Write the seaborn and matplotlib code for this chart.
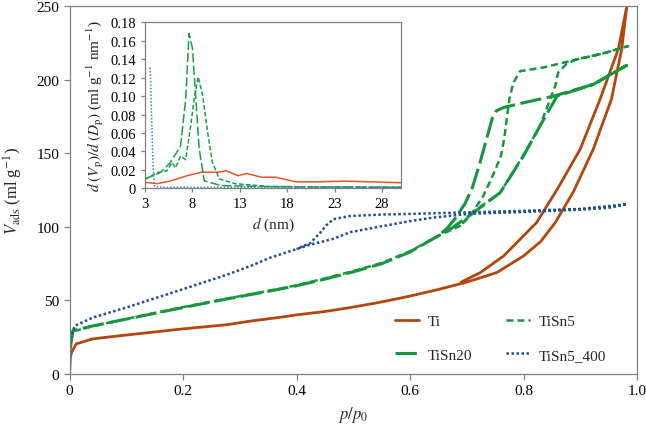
import numpy as np
import pandas as pd
import matplotlib
matplotlib.use("Agg")
import matplotlib.pyplot as plt
import seaborn as sns

# ---- isotherm data (p/p0, V_ads) : adsorption then desorption branch ----
ti_ads_p = [0, 0.001, 0.004, 0.012, 0.041, 0.1, 0.2, 0.277, 0.319, 0.37, 0.4, 0.45, 0.495,
            0.55, 0.6, 0.65, 0.7, 0.753, 0.8, 0.83, 0.856, 0.888, 0.923, 0.955, 0.973, 0.982]
ti_ads_v = [0, 11, 15, 20.5, 23.9, 26.5, 30.7, 33.5, 36, 38.5, 40.2, 42.5, 45.2,
            49, 53, 57.5, 62.5, 69, 80.3, 90, 103, 124, 153, 187, 221, 250]
ti_des_p = [0.982, 0.967, 0.935, 0.90, 0.86, 0.823, 0.765, 0.724, 0.69]
ti_des_v = [250, 221, 187, 153, 126, 103, 80.3, 69, 62.5]

tisn20_ads_p = [0, 0.001, 0.003, 0.006, 0.041, 0.1, 0.2, 0.277, 0.319, 0.37, 0.4, 0.45, 0.5,
                0.55, 0.6, 0.65, 0.671, 0.712, 0.759, 0.80, 0.829, 0.859, 0.923, 0.982]
tisn20_ads_v = [0, 15, 22, 29.5, 32.7, 37.3, 45.2, 51, 54, 57.7, 60, 64.5, 69.5,
                75, 83, 94, 98.5, 109.8, 123.4, 148.3, 168.7, 189, 197, 210]
tisn20_des_p = [0.982, 0.923, 0.853, 0.80, 0.765, 0.752, 0.745, 0.735, 0.722, 0.71, 0.697,
                0.68, 0.665, 0.65]
tisn20_des_v = [210, 197, 189, 184.5, 181.3, 179, 174, 160, 142, 127, 116, 106, 99, 94]

tisn5_ads_p = [0, 0.001, 0.003, 0.006, 0.041, 0.1, 0.2, 0.277, 0.319, 0.37, 0.4, 0.45, 0.5,
               0.55, 0.6, 0.65, 0.688, 0.712, 0.759, 0.80, 0.829, 0.847, 0.856, 0.861, 0.876,
               0.893, 0.94, 0.984]
tisn5_ads_v = [0, 15, 22, 29, 32.5, 37.5, 45.5, 51.3, 54.3, 58, 60.3, 65, 70,
               75.5, 83.5, 94, 100.7, 110.5, 123.4, 149, 168.7, 187, 196, 205, 211,
               214, 218, 223]
tisn5_des_p = [0.984, 0.94, 0.894, 0.835, 0.794, 0.782, 0.775, 0.771, 0.766, 0.76, 0.747,
               0.729, 0.706, 0.688]
tisn5_des_v = [223, 218, 214, 208.5, 206, 198, 187, 175, 160, 148, 136, 121, 107.5, 100.7]

tisn5400_ads_p = [0, 0.001, 0.003, 0.009, 0.041, 0.1, 0.2, 0.277, 0.319, 0.353, 0.40, 0.42,
                  0.465, 0.495, 0.553, 0.6, 0.641, 0.706, 0.8, 0.9, 0.95, 0.982]
tisn5400_ads_v = [0, 20, 26, 32.7, 38.4, 45.2, 57.7, 67.5, 73.5, 79, 85, 87.5, 92, 96.5,
                  100.7, 104, 106.4, 109, 110.2, 111.8, 113, 115.5]
tisn5400_des_p = [0.982, 0.9, 0.8, 0.706, 0.612, 0.553, 0.495, 0.465, 0.452, 0.442, 0.424, 0.40]
tisn5400_des_v = [115.5, 112.3, 111, 110, 109, 108.5, 107.5, 105.3, 101, 96.2, 89, 85]

# ---- pore size distribution (inset) ----
psd_ti_d = [3, 4.3, 5.7, 7.46, 8.89, 10.7, 11.57, 12.8, 13.7, 15.3, 16.8, 18.9, 21, 24, 27, 30]
psd_ti_v = [0.0065, 0.005, 0.008, 0.0137, 0.0174, 0.0174, 0.019, 0.0137, 0.016, 0.012, 0.012,
            0.007, 0.007, 0.0077, 0.007, 0.006]
psd_tisn20_d = [3, 4.6, 5.68, 6.75, 7.29, 7.64, 8.0, 8.36, 8.71, 9.25, 11, 15, 20, 30]
psd_tisn20_v = [0.010, 0.017, 0.028, 0.046, 0.097, 0.168, 0.152, 0.097, 0.043, 0.008, 0.003,
                0.002, 0.0015, 0.001]
psd_tisn5_d = [3, 4.3, 5.3, 5.86, 6.2, 6.75, 7.29, 7.82, 8.18, 8.61, 9.07, 9.6, 10.1, 10.86,
               12.5, 16, 22, 30]
psd_tisn5_v = [0.010, 0.017, 0.019, 0.028, 0.022, 0.035, 0.031, 0.068, 0.097, 0.121, 0.101,
               0.061, 0.028, 0.010, 0.005, 0.002, 0.0015, 0.0012]
psd_tisn5400_d = [3.55, 3.6, 3.7, 3.8, 3.9, 4.0, 5, 10, 20, 30]
psd_tisn5400_v = [0.131, 0.11, 0.075, 0.04, 0.012, 0.002, 0.001, 0.001, 0.001, 0.001]

sns.set_style("ticks")
plt.rcParams["font.family"] = "serif"
plt.rcParams["font.serif"] = ["Liberation Serif", "DejaVu Serif"]
plt.rcParams["mathtext.fontset"] = "stix"

grey = "#808080"
fig = plt.figure(figsize=(6.46, 4.27), dpi=100)
ax = fig.add_axes([0.1076, 0.1218, 0.8785, 0.8607])


def loop(p_a, v_a, p_d, v_d):
    return pd.DataFrame({"p": list(p_a) + list(p_d), "v": list(v_a) + list(v_d)})


series = [
    ("Ti", loop(ti_ads_p, ti_ads_v, ti_des_p, ti_des_v), "#b4460c", "-", 2.0),
    ("TiSn20", loop(tisn20_ads_p, tisn20_ads_v, tisn20_des_p, tisn20_des_v), "#16973f", (0, (7, 1.8)), 2.2),
    ("TiSn5", loop(tisn5_ads_p, tisn5_ads_v, tisn5_des_p, tisn5_des_v), "#16973f", (0, (2.8, 1.6)), 1.8),
    ("TiSn5_400", loop(tisn5400_ads_p, tisn5400_ads_v, tisn5400_des_p, tisn5400_des_v), "#1d4f91", (0, (1, 1)), 1.8),
]
handles = {}
for name, df, col, ls, lw in series:
    sns.lineplot(data=df, x="p", y="v", sort=False, estimator=None, ax=ax,
                 color=col, linestyle=ls, lw=lw, label=name)
    handles[name] = ax.get_lines()[-1]

ax.set_xlim(0, 1.0)
ax.set_ylim(0, 250)
ax.set_xticks([0, 0.2, 0.4, 0.6, 0.8, 1.0])
ax.set_xticklabels(["0", "0.2", "0.4", "0.6", "0.8", "1.0"])
ax.set_yticks([0, 50, 100, 150, 200, 250])
ax.set_xlabel(r"$p/p_0$", fontsize=12, labelpad=5)
ax.set_ylabel(r"$V_\mathrm{ads}$ (ml g$^{-1}$)", fontsize=12, labelpad=8)
for s in ax.spines.values():
    s.set_color(grey)
    s.set_linewidth(0.9)
ax.tick_params(colors=grey, labelcolor="black", labelsize=11, length=4, width=0.9, direction="out")

order = ["Ti", "TiSn20", "TiSn5", "TiSn5_400"]
ax.legend([handles[k] for k in order], order, ncol=2, frameon=False, fontsize=11,
          loc="center", bbox_to_anchor=(0.775, 0.206), bbox_transform=fig.transFigure,
          handlelength=1.55, handletextpad=0.6, columnspacing=2.2, labelspacing=1.3)

# ---- inset ----
ins = fig.add_axes([0.2245, 0.5567, 0.3963, 0.3883])
ins.set_facecolor("white")
inset_series = [
    (psd_ti_d, psd_ti_v, "#e2562a", "-"),
    (psd_tisn20_d, psd_tisn20_v, "#1a9e4b", (0, (6, 2))),
    (psd_tisn5_d, psd_tisn5_v, "#1a9e4b", (0, (3, 1.5))),
    (psd_tisn5400_d, psd_tisn5400_v, "#3b7dd8", (0, (1, 1.2))),
]
for d, v, col, ls in inset_series:
    sns.lineplot(x=d, y=v, sort=False, estimator=None, ax=ins, color=col, linestyle=ls, lw=1.1)
ins.set_xlim(3, 30)
ins.set_ylim(0, 0.18)
ins.set_xticks([3, 8, 13, 18, 23, 28])
ins.set_yticks(np.arange(0, 0.181, 0.02))
ins.set_yticklabels(["0"] + [f"{t:.2f}" for t in np.arange(0.02, 0.181, 0.02)])
ins.set_xlabel(r"$d$ (nm)", fontsize=11, labelpad=3)
ins.set_ylabel(r"$d\;(V_\mathrm{p})/d\;(D_\mathrm{p})$ (ml g$^{-1}$ nm$^{-1}$)", fontsize=11, labelpad=3)
for s in ins.spines.values():
    s.set_color(grey)
    s.set_linewidth(0.9)
ins.tick_params(colors=grey, labelcolor="black", labelsize=10.5, length=3, width=0.9, direction="out")

fig.savefig("out.png", dpi=100)
